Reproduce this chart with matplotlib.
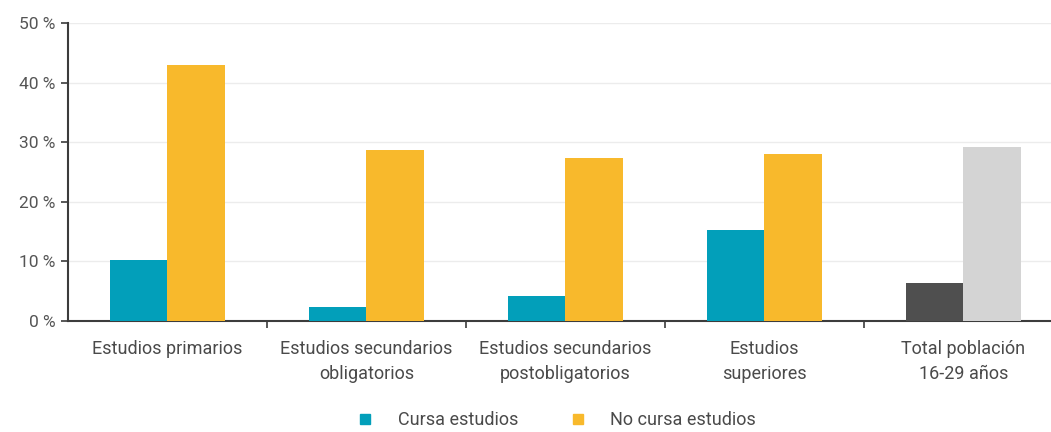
import numpy as np
import matplotlib.pyplot as plt
from matplotlib.lines import Line2D

categories = ['Estudios primarios', 'Estudios secundarios\nobligatorios',
              'Estudios secundarios\npostobligatorios', 'Estudios\nsuperiores',
              'Total población\n16-29 años']
cursa = [10.2, 2.3, 4.2, 15.3, 6.4]
no_cursa = [43.0, 28.7, 27.4, 28.0, 29.2]
yticks = [0, 10, 20, 30, 40, 50]

plt.rcParams['font.family'] = ['Roboto', 'DejaVu Sans']
text_color = '#4a4a4a'
axis_color = '#3c3c3c'

colors_a = ['#029fba'] * 4 + ['#4f4f4f']
colors_b = ['#f8b92c'] * 4 + ['#d4d4d4']

fig = plt.figure(figsize=(10.51, 4.32), dpi=100)
ax = fig.add_axes([0.0647, 0.257, 0.9353, 0.69])

x = np.arange(len(categories))
w = 0.29
ax.bar(x - w / 2, cursa, w, color=colors_a, zorder=3)
ax.bar(x + w / 2, no_cursa, w, color=colors_b, zorder=3)

ax.set_xlim(-0.5, 4.44)
ax.set_ylim(0, 50)
ax.set_yticks(yticks)
ax.set_yticklabels([f'{v} %' for v in yticks], color='#555555', fontsize=12.5)
ax.yaxis.grid(True, color='#ececec', linewidth=1, zorder=0)

ax.set_xticks(x)
ax.set_xticklabels(categories, color=text_color, fontsize=13, linespacing=1.45)
ax.tick_params(axis='x', which='major', length=0, pad=14)
ax.set_xticks(x[:-1] + 0.5, minor=True)
ax.tick_params(axis='x', which='minor', length=5, width=1.2, color=axis_color)
ax.tick_params(axis='y', length=5, width=1.2, color=axis_color, pad=4)

for s in ['top', 'right']:
    ax.spines[s].set_visible(False)
for s in ['left', 'bottom']:
    ax.spines[s].set_color(axis_color)
    ax.spines[s].set_linewidth(1.5)

handles = [Line2D([], [], marker='s', linestyle='none', markersize=7, color='#029fba'),
           Line2D([], [], marker='s', linestyle='none', markersize=7, color='#f8b92c')]
fig.legend(handles, ['Cursa estudios', 'No cursa estudios'], loc='center',
           bbox_to_anchor=(0.525, 0.028), ncol=2, frameon=False, fontsize=13,
           labelcolor=text_color, handletextpad=0.8, columnspacing=2.3,
           borderpad=0)

fig.savefig('out.png', dpi=100)
